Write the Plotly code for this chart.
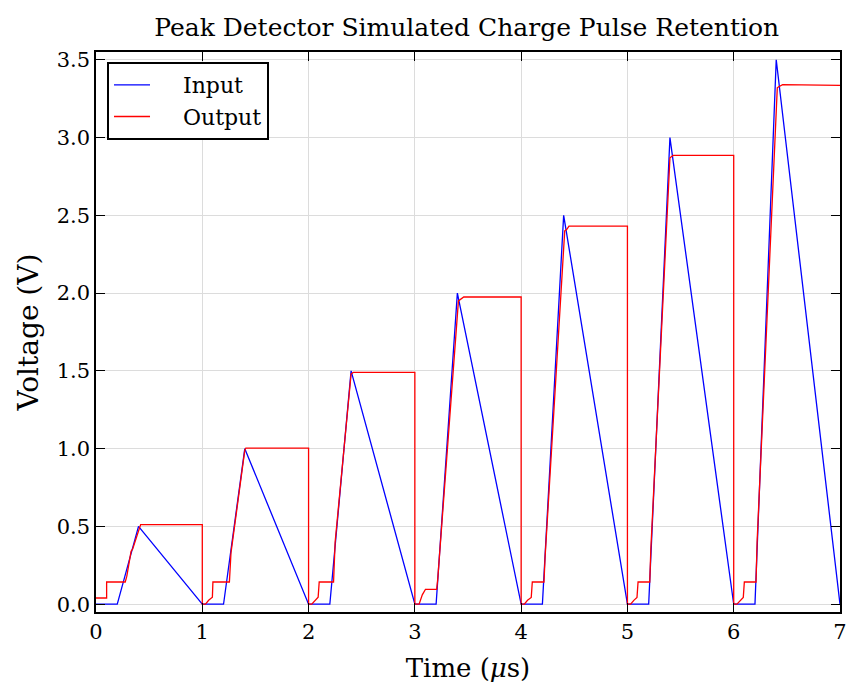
import plotly.graph_objects as go

# Input: triangular charge pulses
input_t = [0.0, 0.2, 0.4, 1.0, 1.2, 1.4, 2.0, 2.2, 2.4, 3.0, 3.2, 3.4, 4.0,
           4.2, 4.4, 5.0, 5.2, 5.4, 6.0, 6.2, 6.4, 7.0]
input_v = [0.0, 0.0, 0.5, 0.0, 0.0, 1.0, 0.0, 0.0, 1.5, 0.0, 0.0, 2.0, 0.0,
           0.0, 2.5, 0.0, 0.0, 3.0, 0.0, 0.0, 3.5, 0.0]

# Output: peak detector response
output_t = [
    0.0, 0.1, 0.1, 0.275, 0.29, 0.32, 0.33, 0.345, 0.41, 0.42, 1.0,
    1.0, 1.03, 1.06, 1.095, 1.1, 1.255, 1.27, 1.40, 1.41, 2.0,
    2.0, 2.03, 2.06, 2.09, 2.1, 2.235, 2.25, 2.40, 2.42, 3.0,
    3.0, 3.04, 3.07, 3.1, 3.205, 3.215, 3.41, 3.42, 3.46, 4.0,
    4.0, 4.03, 4.06, 4.095, 4.105, 4.215, 4.225, 4.41, 4.43, 4.45, 5.0,
    5.0, 5.03, 5.06, 5.09, 5.10, 5.21, 5.22, 5.40, 5.41, 5.43, 6.0,
    6.0, 6.03, 6.06, 6.09, 6.10, 6.21, 6.22, 6.41, 6.42, 6.46, 7.0,
]
output_v = [
    0.04, 0.04, 0.143, 0.143, 0.18, 0.31, 0.34, 0.355, 0.505, 0.512, 0.512,
    0.0, 0.0, 0.025, 0.045, 0.143, 0.143, 0.33, 0.99, 1.004, 1.004,
    0.0, 0.0, 0.025, 0.045, 0.143, 0.143, 0.40, 1.48, 1.49, 1.49,
    0.0, 0.0, 0.06, 0.096, 0.096, 0.16, 1.95, 1.955, 1.975, 1.975,
    0.0, 0.0, 0.025, 0.043, 0.143, 0.143, 0.30, 2.40, 2.41, 2.43, 2.43,
    0.0, 0.0, 0.025, 0.043, 0.143, 0.143, 0.35, 2.87, 2.875, 2.885, 2.885,
    0.0, 0.0, 0.025, 0.043, 0.143, 0.143, 0.40, 3.32, 3.325, 3.34, 3.335,
]

x_ticks = [0, 1, 2, 3, 4, 5, 6, 7]
y_ticks = [0.0, 0.5, 1.0, 1.5, 2.0, 2.5, 3.0, 3.5]

FONT = "DejaVu Serif"
NB = "\u00a0"

fig = go.Figure()
fig.add_trace(go.Scatter(x=input_t, y=input_v, mode="lines", name=NB * 4 + "Input",
                         line=dict(color="#0000ff", width=1.3)))
fig.add_trace(go.Scatter(x=output_t, y=output_v, mode="lines", name=NB * 4 + "Output",
                         line=dict(color="#ff0000", width=1.3)))

axis_common = dict(
    showline=True, linecolor="black", linewidth=1.5, mirror="ticks",
    ticks="inside", ticklen=9, tickwidth=1.2, tickcolor="black",
    showgrid=True, gridcolor="#dcdcdc", gridwidth=1, zeroline=False,
    automargin=False,
    tickfont=dict(family=FONT, size=21, color="black"),
)

fig.update_layout(
    width=847, height=687,
    margin=dict(l=96, r=7, t=52, b=75),
    paper_bgcolor="white", plot_bgcolor="white",
    title=dict(text="Peak Detector Simulated Charge Pulse Retention",
               x=0.551, xanchor="center", y=0.961, yanchor="middle",
               font=dict(family=FONT, size=25, color="black")),
    xaxis=dict(range=[0, 7], tickvals=x_ticks,
               ticktext=[str(v) for v in x_ticks],
               title=dict(text="Time (<i>μ</i>s)", standoff=16,
                          font=dict(family=FONT, size=26, color="black")),
               **axis_common),
    yaxis=dict(range=[-0.05, 3.55], tickvals=y_ticks,
               ticktext=[f"{v:.1f}" for v in y_ticks],
               title=dict(text="Voltage (V)", standoff=10,
                          font=dict(family=FONT, size=28, color="black")),
               **axis_common),
    legend=dict(x=0.0148, y=0.982, xanchor="left", yanchor="top",
                bgcolor="white", bordercolor="black", borderwidth=2,
                font=dict(family=FONT, size=22, color="black"),
                itemwidth=36, tracegroupgap=0),
    showlegend=True,
)

fig.write_html("out.html")
